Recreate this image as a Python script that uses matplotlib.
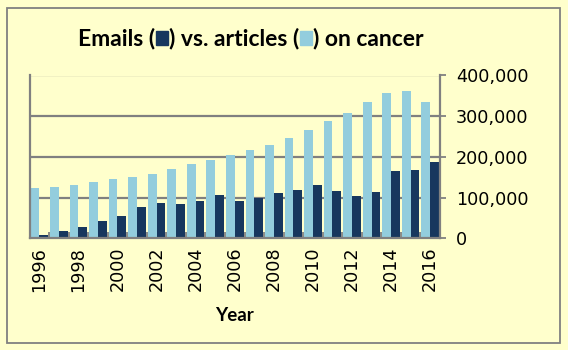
import matplotlib
matplotlib.use('Agg')
import matplotlib.pyplot as plt
from matplotlib.patches import Rectangle
from matplotlib.ticker import FuncFormatter
import numpy as np

years = list(range(1996, 2017))
articles = [123000, 126000, 131000, 138000, 145000, 150000, 158000, 170000, 182000, 192000,
            204000, 216000, 229000, 246000, 265000, 287000, 309000, 336000, 358000, 361000, 334000]
emails = [8000, 18000, 28000, 42000, 55000, 77000, 87000, 84000, 91000, 106000,
          91000, 99000, 111000, 118000, 131000, 116000, 104000, 113000, 165000, 167000, 187000]
yticks = [0, 100000, 200000, 300000, 400000]

bg = '#FFFFCC'
dark = '#17375E'
light = '#93CDDD'
grey = '#808080'

W, H = 568, 350
fig = plt.figure(figsize=(W / 100, H / 100), dpi=100, facecolor=bg)


def fx(px):
    return px / W


def fy(py):
    return 1 - py / H


ax = fig.add_axes([fx(29.5), fy(238.3), fx(440) - fx(29.5), fy(75.5) - fy(238.3)])
ax.set_facecolor(bg)

x = np.arange(len(years))
bw = 0.45
ax.bar(x - bw / 2, articles, width=bw, color=light, zorder=3)
ax.bar(x + bw / 2, emails, width=bw, color=dark, zorder=3)

# gridlines behind the bars
ax.set_axisbelow(True)
ax.yaxis.grid(True, color=grey, linewidth=1.6)

ax.set_xlim(-0.5, len(years) - 0.5)
ax.set_ylim(0, 400000)

ax.yaxis.tick_right()
ax.set_yticks(yticks)
ax.yaxis.set_major_formatter(FuncFormatter(lambda v, p: f'{int(v):,}'))
ax.tick_params(axis='y', direction='out', length=4.5, width=1.3, color=grey, pad=7,
               labelsize=12.7, labelcolor='black')

ax.set_xticks(x[::2])
ax.set_xticklabels([str(y) for y in years[::2]], rotation=90)
ax.set_xticks(np.arange(-0.5, len(years), 1), minor=True)
ax.tick_params(axis='x', which='major', length=0, pad=6, labelsize=12.7)
ax.tick_params(axis='x', which='minor', direction='in', length=4, width=1.3, color=grey)

for s in ['left', 'right', 'bottom']:
    ax.spines[s].set_color(grey)
    ax.spines[s].set_linewidth(1.6)
    ax.spines[s].set_zorder(4)
ax.spines['top'].set_visible(False)

fig.text(fx(234.7), fy(320.7), 'Year', ha='center', va='baseline',
         family='Lato', weight='bold', fontsize=13.5)

# outer frame
fig.patches.append(Rectangle((fx(7), fy(343)), fx(560) - fx(7), fy(8) - fy(343),
                             transform=fig.transFigure, fill=False,
                             edgecolor=grey, linewidth=1.3))

# title built from pieces with coloured squares
renderer = fig.canvas.get_renderer()
pieces = ['Emails (', None, ') vs. articles (', None, ') on cancer']
sq_colors = [dark, light]
sq_w, sq_h, sq_gap = 12, 14, 1
tprops = dict(family='Lato', weight='bold', fontsize=16.5, va='baseline')
base = 45

widths = []
for p in pieces:
    if p is None:
        widths.append(sq_w + 2 * sq_gap)
    else:
        t = fig.text(0, 0, p, **tprops)
        widths.append(t.get_window_extent(renderer).width)
        t.remove()
total = sum(widths)
cur = 250.5 - total / 2
k = 0
for p, w in zip(pieces, widths):
    if p is None:
        fig.patches.append(Rectangle((fx(cur + sq_gap), fy(base)), fx(sq_w), sq_h / H,
                                     transform=fig.transFigure, color=sq_colors[k]))
        k += 1
    else:
        fig.text(fx(cur), fy(base), p, **tprops)
    cur += w

fig.savefig('out.png', dpi=100, facecolor=bg)
